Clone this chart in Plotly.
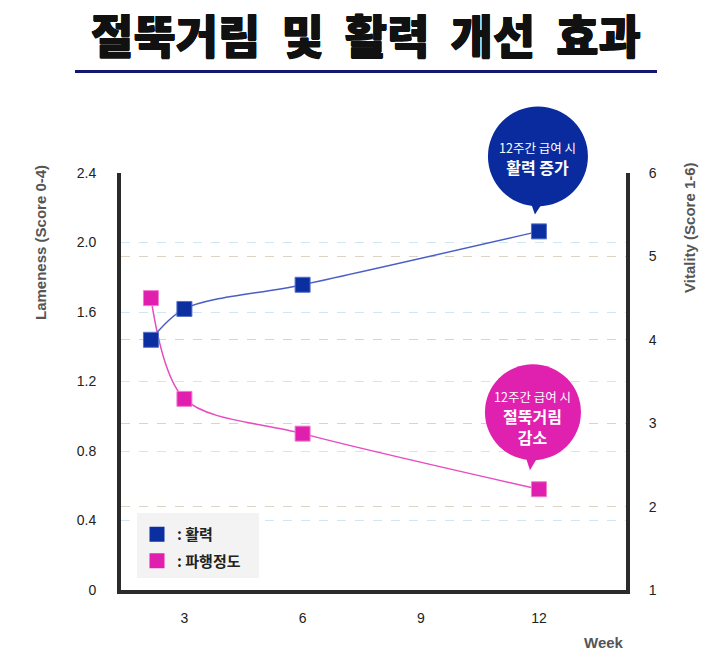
import plotly.graph_objects as go

# chart data
weeks = [2.15, 3, 6, 12]
vitality = [4.0, 4.37, 4.66, 5.30]
lameness = [1.68, 1.10, 0.90, 0.58]

left_ticks = [0, 0.4, 0.8, 1.2, 1.6, 2.0, 2.4]
left_labels = ['0', '0.4', '0.8', '1.2', '1.6', '2.0', '2.4']
right_ticks = [1, 2, 3, 4, 5, 6]
week_ticks = [3, 6, 9, 12]

x_range = [1.39, 14.21]
left_range = [0, 2.4]
right_range = [1, 6]

BLUE = '#0b2ea0'
PINK = '#e01fae'
KR = 'Noto Sans CJK KR'
NUM = 'Liberation Sans, Noto Sans CJK KR'

# page has an 8px body margin; figure is sized to fit the window
OFF = 8
W, H = 727 - 2 * OFF, 671 - 2 * OFF
L, T = 121 - OFF, 173 - OFF
R = W - (626 - OFF)
B = H - (590 - OFF)
pw, ph = W - L - R, H - T - B


def px(x):
    # page pixel -> paper fraction
    return (x - OFF - L) / pw


def py(y):
    return (H - B - (y - OFF)) / ph


fig = go.Figure()

fig.add_trace(go.Scatter(
    x=weeks, y=vitality, yaxis='y2', mode='lines+markers',
    line=dict(color='#4a5fc6', width=1.5, shape='spline', smoothing=0.9),
    marker=dict(symbol='square', size=15, color=BLUE, line=dict(color='#5570c8', width=1)),
    showlegend=False))
fig.add_trace(go.Scatter(
    x=weeks, y=lameness, mode='lines+markers',
    line=dict(color='#e64dbf', width=1.5, shape='spline', smoothing=0.9),
    marker=dict(symbol='square', size=15, color=PINK, line=dict(color='#f07ccc', width=1)),
    showlegend=False))

# legend-only entries (square swatches)
fig.add_trace(go.Scatter(x=[None], y=[None], mode='markers', name=': 활력', legendgroup='a',
                         marker=dict(symbol='square', size=15, color=BLUE)))
fig.add_trace(go.Scatter(x=[None], y=[None], mode='markers', name=': 파행정도', legendgroup='b',
                         marker=dict(symbol='square', size=15, color=PINK)))

# legend box
fig.add_shape(type='rect', xref='paper', yref='paper', x0=px(137), x1=px(259),
              y0=py(578), y1=py(513), fillcolor='#f3f3f3', line=dict(width=0), layer='above')


# callout bubbles (paper refs so they are not clipped by the plot area)
def bubble(xval, yval, yr, color, dx, cy, r, tip):
    xa = (xval - x_range[0]) / (x_range[1] - x_range[0])
    ya = (yval - yr[0]) / (yr[1] - yr[0])
    common = dict(xref='paper', yref='paper', xsizemode='pixel', ysizemode='pixel',
                  xanchor=xa, yanchor=ya, fillcolor=color, line=dict(width=0), layer='above')
    fig.add_shape(type='circle', x0=dx - r, x1=dx + r, y0=cy - r, y1=cy + r, **common)
    fig.add_shape(type='path',
                  path=f'M {dx - 10} {cy - r + 12} L {dx - 3} {tip} L {dx + 10} {cy - r + 12} Z',
                  **common)


bubble(weeks[-1], vitality[-1], right_range, '#0a2b9d', -1, 75, 50, 17)
bubble(weeks[-1], lameness[-1], left_range, '#e020ae', -6, 77, 48, 19)

small = '<span style="font-size:12.5px;font-weight:normal">12주간 급여 시</span>'
fig.add_annotation(x=weeks[-1], y=vitality[-1], xref='x', yref='y2', showarrow=False,
                   text=small + '<br>활력 증가', xshift=-1, yshift=73,
                   font=dict(family=KR, size=16, color='white', weight='bold'))
fig.add_annotation(x=weeks[-1], y=lameness[-1], xref='x', yref='y', showarrow=False,
                   text=small + '<br>절뚝거림<br>감소', xshift=-6, yshift=71,
                   font=dict(family=KR, size=16, color='white', weight='bold'))

# axis titles and labels
title_font = dict(family=NUM, size=15, color='#555555', weight='bold')
for x, y, text, ang in [(40, 243, 'Lameness (Score 0-4)', -90),
                        (690, 228, 'Vitality (Score 1-6)', -90),
                        (604, 642, 'Week', 0)]:
    fig.add_annotation(x=px(x), y=py(y), xref='paper', yref='paper', xanchor='center',
                       yanchor='middle', text=text, showarrow=False, textangle=ang,
                       font=title_font)

# title underline
fig.add_shape(type='line', xref='paper', yref='paper', x0=px(75), x1=px(657),
              y0=py(71.5), y1=py(71.5), line=dict(color='#15166e', width=3))

tick_font = dict(family=NUM, size=14, color='#222222')

fig.update_layout(
    width=W, height=H,
    margin=dict(l=L, r=R, t=T, b=B),
    paper_bgcolor='white', plot_bgcolor='white',
    title=dict(text='절뚝거림  및  활력  개선  효과', x=px(366), xanchor='center',
               xref='paper', y=1 - (37 - OFF) / H, yanchor='middle', yref='container',
               font=dict(family=KR, size=46, color='#111111', weight=900,
                         shadow='0.5px 0 0 #111, -0.5px 0 0 #111, 0 0.5px 0 #111, 0 -0.5px 0 #111')),
    xaxis=dict(range=x_range, tickvals=week_ticks, showgrid=False, zeroline=False,
               showline=True, linewidth=4, linecolor='#2b2b2b',
               ticks='outside', ticklen=12, tickcolor='rgba(0,0,0,0)', tickfont=tick_font),
    yaxis=dict(range=left_range, tickvals=left_ticks, ticktext=left_labels,
               showgrid=True, gridcolor='#cfe6f3', griddash='dash', gridwidth=1,
               zeroline=False, showline=True, linewidth=4, linecolor='#2b2b2b',
               ticks='outside', ticklen=18, tickcolor='rgba(0,0,0,0)', tickfont=tick_font),
    yaxis2=dict(range=right_range, tickvals=right_ticks, overlaying='y', side='right',
                showgrid=True, gridcolor='#dcd2c6', griddash='dash', gridwidth=1,
                zeroline=False, showline=True, linewidth=4, linecolor='#2b2b2b',
                ticks='outside', ticklen=16, tickcolor='rgba(0,0,0,0)', tickfont=tick_font),
    legend=dict(x=px(137), y=py(518), xanchor='left', yanchor='top',
                bgcolor='rgba(0,0,0,0)', itemwidth=30, itemsizing='trace',
                font=dict(family=KR, size=15, color='#222222', weight='bold'),
                tracegroupgap=4),
)

fig.write_html('out.html')
